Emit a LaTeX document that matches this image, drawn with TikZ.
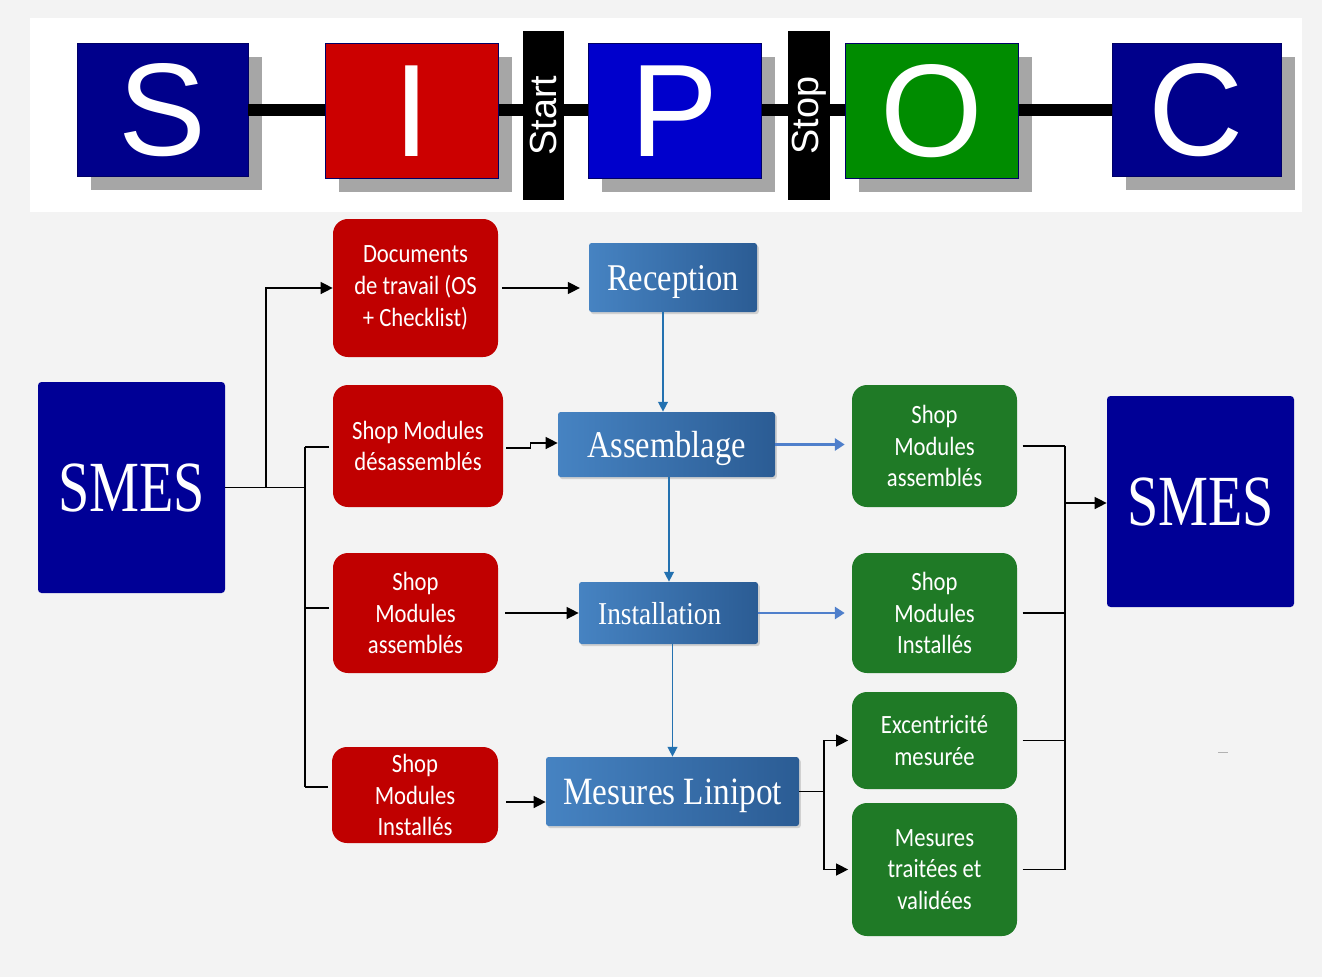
\documentclass[tikz,border=0pt]{standalone}
\usepackage{fontspec}
\setmainfont{Liberation Serif}
\newfontfamily\headfont{Liberation Sans}
\newfontfamily\boxfont[FakeStretch=0.86]{Carlito}
\newfontfamily\procfont[FakeStretch=0.86]{Liberation Serif}
\newfontfamily\smesfont[FakeStretch=0.78]{Liberation Serif}
\usetikzlibrary{arrows.meta,calc,shadows}
\def\pxu{0.02cm}
\definecolor{navy}{HTML}{00008B}
\definecolor{smesblue}{HTML}{000096}
\definecolor{ired}{HTML}{CC0000}
\definecolor{pblue}{HTML}{0000CC}
\definecolor{ogreen}{HTML}{008C00}
\definecolor{inred}{HTML}{C00000}
\definecolor{outgreen}{HTML}{1F7A26}
\definecolor{procA}{HTML}{4683C2}
\definecolor{procB}{HTML}{2B5C94}
\definecolor{flowteal}{HTML}{2371B0}
\definecolor{flowblue}{HTML}{4F7FCB}
\definecolor{bggray}{HTML}{F3F3F3}
\tikzset{
  sized/.style 2 args={minimum width=#1*\pxu, minimum height=#2*\pxu, inner sep=0pt},
  letter/.style={draw=blue!40!black, line width=0.5pt, text=white,
    font=\headfont\fontsize{75}{80}\selectfont,
    drop shadow={shadow xshift=7.9pt, shadow yshift=-7.4pt, fill=black, opacity=0.35}},
  gate/.style={fill=black, text=white, rotate=90, font=\headfont\fontsize{21.5}{24}\selectfont},
  inbox/.style={fill=inred, rounded corners=8.5pt, text=white, align=center,
    font=\boxfont\fontsize{15}{18.1}\selectfont},
  outbox/.style={inbox, fill=outgreen},
  procbox/.style={left color=procA, right color=procB, rounded corners=1.5pt, text=white,
    text depth=0pt, font=\procfont\fontsize{21.5}{24}\selectfont,
    drop shadow={shadow xshift=1pt, shadow yshift=-1.2pt, opacity=0.3}},
  smes/.style={fill=smesblue, rounded corners=2pt, text=white, font=\smesfont\fontsize{41}{46}\selectfont},
  wire/.style={line width=0.8pt},
  arr/.style={wire, -{Triangle[length=6.8pt,width=6.8pt]}},
  flow/.style={draw=flowteal, line width=0.8pt, -{Triangle[length=5.6pt,width=5.6pt]}},
  outarr/.style={draw=flowblue, line width=1.2pt, -{Triangle[length=5.6pt,width=7pt]}},
  bar/.style={line width=6.8pt},
}
\begin{document}
\begin{tikzpicture}[x=\pxu, y=-\pxu]
\useasboundingbox (0,0) rectangle (1322,977);
\fill[bggray] (0,0) rectangle (1322,977);
\fill[white] (30,18) rectangle (1302,212);

\node[letter, fill=navy, sized={171}{133}] (sS) at (162.5,110) {S};
\node[letter, fill=navy, sized={169}{133}] (sC) at (1196.5,110) {C};
\draw[bar] (sS.east) -- (sC.west);
\foreach \n/\t/\c/\x in {sI/I/ired/412, sP/P/pblue/674.5, sO/O/ogreen/932}
  \node[letter, fill=\c, sized={173}{135}] (\n) at (\x,111) {\t};
\node[gate, sized={169}{41}] (start) at (543.5,115.5) {Start};
\node[gate, sized={169}{42}] (stop) at (809,115.5) {Stop};

\node[smes, sized={187}{211}] (smesL) at (131.5,487.5) {SMES};
\node[smes, sized={187}{211}] (smesR) at (1200.5,501.5) {SMES};
\node[inbox, sized={165}{138}] (docs) at (415.5,288) {Documents\\de travail (OS\\+ Checklist)};
\node[inbox, sized={170}{122}] (sdes) at (418,446) {Shop Modules\\désassemblés};
\node[inbox, sized={165}{120}] (sass) at (415.5,613) {Shop\\Modules\\assemblés};
\node[inbox, sized={166}{96}] (sinst) at (415,795) {Shop\\Modules\\Installés};
\node[procbox, sized={168}{69}] (recep) at (673,277.5) {Reception};
\node[procbox, sized={217}{65}] (assem) at (666.5,444.5) {Assemblage};
\node[procbox, sized={179}{62}, font=\procfont\fontsize{18.1}{20}\selectfont] (install) at (668.5,613) {Installation\kern10pt\relax};
\node[procbox, sized={253}{69}, font=\procfont\fontsize{22}{24}\selectfont] (mesure) at (672.5,791.5) {Mesures Linipot};
\node[outbox, sized={165}{122}] (gass) at (934.5,446) {Shop\\Modules\\assemblés};
\node[outbox, sized={165}{120}] (ginst) at (934.5,613) {Shop\\Modules\\Installés};
\node[outbox, sized={165}{97}] (gexc) at (934.5,740.5) {Excentricité\\mesurée};
\node[outbox, sized={165}{133}] (gmes) at (934.5,869.5) {Mesures\\traitées et\\validées};

\coordinate (tapA) at (266,487.5);
\coordinate (tapB) at (305,487.5);
\coordinate (tapC) at (824,791.5);
\coordinate (tapR) at (1065,503);

\draw[wire] (smesL.east) -- (tapB);
\draw[arr] (tapA) |- (docs.west);
\foreach \n/\dy in {sdes/1, sass/-5, sinst/-8}
  \draw[wire, shorten <=2pt] ($(\n.west)+(0,\dy)$) coordinate (stub\n) -- (stub\n -| tapB);
\draw[wire] (stubsdes -| tapB) -- (stubsinst -| tapB);

\draw[arr, shorten <=2pt, shorten >=5pt] (docs.east) -- (docs.east -| recep.west);
\draw[flow] ($(recep.south)+(-10,0)$) coordinate (rdown) -- (rdown |- assem.north);
\draw[arr] ($(sdes.east)+(3,2)$) -- ++(24,0) |- ($(assem.west)+(0,-1.5)$);
\draw[flow] ($(assem.south)+(2.5,0)$) coordinate (adown) -- (adown |- install.north);
\draw[arr, shorten <=4pt] (sass.east) -- (install.west);
\draw[flow] (install.south -| mesure.north) -- (mesure.north);
\draw[arr] ($(sinst.east)+(8,7)$) coordinate (sio) -- (sio -| mesure.west);

\draw[outarr, shorten >=4pt] (assem.east) -- (assem.east -| gass.west);
\draw[outarr, shorten >=4pt] (install.east) -- (install.east -| ginst.west);
\draw[wire] (mesure.east) -- (tapC);
\draw[arr, shorten >=2pt] (tapC) |- (gexc.west);
\draw[arr, shorten >=2pt] (tapC) |- (gmes.west);

\foreach \n in {gass, ginst, gexc, gmes}
  \draw[wire, shorten <=3pt] (\n.east) -- (\n.east -| tapR);
\draw[wire] (gass.east -| tapR) -- (gmes.east -| tapR);
\draw[arr] (tapR) -- (tapR -| smesR.west);

\draw[gray!60, line width=0.5pt] (1218,752) -- (1228,752);
\end{tikzpicture}
\end{document}
